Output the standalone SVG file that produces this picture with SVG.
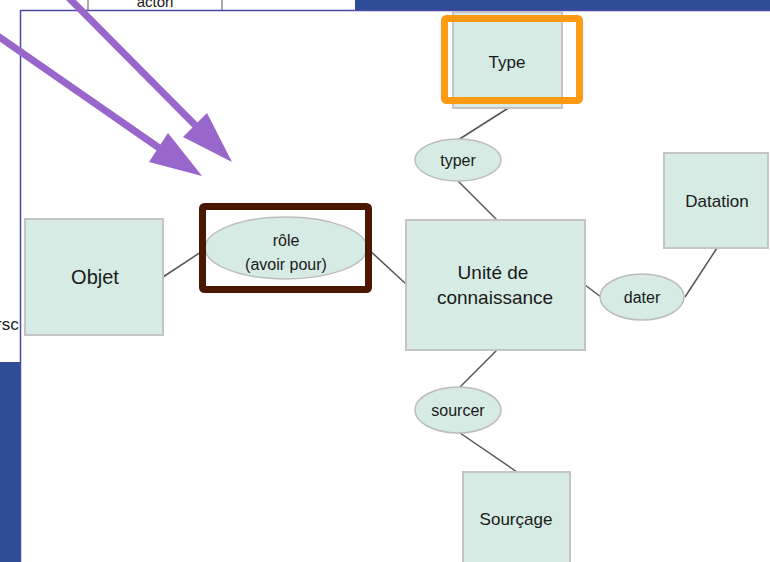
<svg xmlns="http://www.w3.org/2000/svg" width="770" height="562" viewBox="0 0 770 562">
<defs>
<style>
.ent{fill:#d5ebe3;stroke:#c4c4c4;stroke-width:2}
.rel{fill:#d5ebe3;stroke:#bdbdbd;stroke-width:1.5}
.t{font-family:"Liberation Sans",Arial,sans-serif;fill:#1a1a1a;text-anchor:middle}
.con line{stroke:#555;stroke-width:1.5}
.arr{stroke:#9966cc;stroke-width:7;fill:none}
.ah{fill:#9966cc}
</style>
</defs>
<!-- background -->
<rect x="0" y="0" width="770" height="562" fill="#ffffff"/>
<rect x="355" y="0" width="415" height="11" fill="#2f4d96"/>
<rect x="0" y="362" width="20" height="200" fill="#2f4d96"/>
<g id="bg-panel">
<line x1="88" y1="0" x2="88" y2="10" stroke="#555" stroke-width="1"/>
<line x1="222" y1="0" x2="222" y2="10" stroke="#555" stroke-width="1"/>
<text class="t" x="155" y="7" font-size="15">actori</text>
<text x="-4" y="330" font-family="Liberation Sans,Arial,sans-serif" font-size="17" fill="#1a1a1a">rsc</text>
</g>
<!-- main panel -->
<rect x="20.5" y="10.5" width="760" height="560" fill="#ffffff" stroke="#4a4aa6" stroke-width="1.5"/>
<!-- connectors -->
<g id="connectors" class="con">
<line x1="510" y1="107" x2="458" y2="140"/>
<line x1="458" y1="181" x2="497" y2="220"/>
<line x1="163" y1="277" x2="204" y2="250"/>
<line x1="367" y1="248" x2="406" y2="284"/>
<line x1="585" y1="285" x2="601" y2="297"/>
<line x1="685" y1="297" x2="717" y2="248"/>
<line x1="497" y1="350" x2="460" y2="387"/>
<line x1="460" y1="433" x2="517" y2="472"/>
</g>
<!-- nodes -->
<g id="type">
<rect class="ent" x="453" y="12" width="109" height="96"/>
<text class="t" x="507" y="68" font-size="17">Type</text>
</g>
<g id="typer">
<ellipse class="rel" cx="458" cy="160" rx="43" ry="21"/>
<text class="t" x="458" y="166" font-size="16">typer</text>
</g>
<g id="unite">
<rect class="ent" x="406" y="220" width="179" height="130"/>
<text class="t" x="493" y="279" font-size="19">Unité de</text>
<text class="t" x="495" y="304" font-size="19">connaissance</text>
</g>
<g id="datation">
<rect class="ent" x="664" y="153" width="104" height="95"/>
<text class="t" x="717" y="207" font-size="17">Datation</text>
</g>
<g id="dater">
<ellipse class="rel" cx="642" cy="297" rx="42" ry="23"/>
<text class="t" x="642" y="303" font-size="16">dater</text>
</g>
<g id="sourcer">
<ellipse class="rel" cx="458" cy="410" rx="43" ry="23"/>
<text class="t" x="458" y="416" font-size="16">sourcer</text>
</g>
<g id="sourcage">
<rect class="ent" x="463" y="472" width="107" height="100"/>
<text class="t" x="516" y="525" font-size="17">Sourçage</text>
</g>
<g id="objet">
<rect class="ent" x="25" y="219" width="138" height="116"/>
<text class="t" x="95" y="284" font-size="20">Objet</text>
</g>
<g id="role">
<ellipse class="rel" cx="286" cy="248" rx="81" ry="31"/>
<text class="t" x="286" y="246" font-size="16">rôle</text>
<text class="t" x="286" y="270" font-size="16">(avoir pour)</text>
</g>
<!-- highlights -->
<g id="highlight-type">
<rect x="444.5" y="18.5" width="135" height="82" rx="2" fill="none" stroke="#ff9a14" stroke-width="7"/>
</g>
<g id="highlight-role">
<rect x="202.5" y="206.5" width="166" height="83" rx="2" fill="none" stroke="#4a1800" stroke-width="7"/>
</g>
<!-- arrows -->
<g id="arrows">
<line class="arr" x1="-5" y1="34" x2="165" y2="152"/>
<polygon class="ah" points="202,176 149,162 168,133"/>
<line class="arr" x1="67" y1="-4" x2="198" y2="128"/>
<polygon class="ah" points="232,162 183,137 207,113"/>
</g>
</svg>
